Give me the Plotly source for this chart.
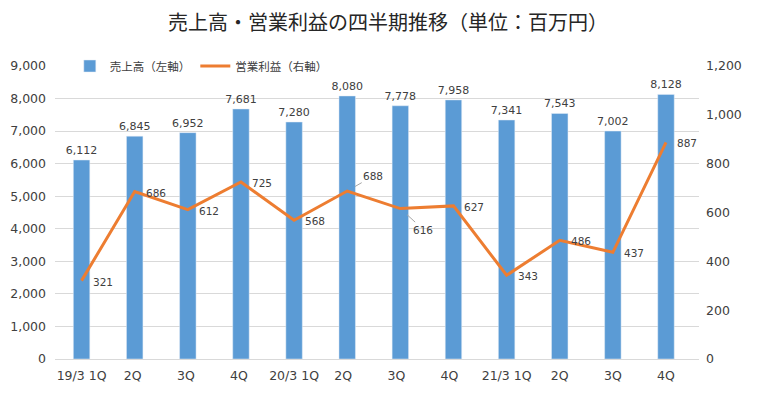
import plotly.graph_objects as go

categories = ["19/3 1Q", "2Q ", "3Q ", "4Q ", "20/3 1Q", "2Q  ", "3Q  ", "4Q  ", "21/3 1Q", "2Q", "3Q", "4Q"]
sales = [6112, 6845, 6952, 7681, 7280, 8080, 7778, 7958, 7341, 7543, 7002, 8128]
op_profit = [321, 686, 612, 725, 568, 688, 616, 627, 343, 486, 437, 887]
left_ticks = list(range(0, 9001, 1000))
right_ticks = list(range(0, 1201, 200))

FONT = "DejaVu Sans, Noto Sans CJK JP, sans-serif"
JP = "Noto Sans CJK JP, sans-serif"
TXT = "#404040"

fig = go.Figure()
fig.add_trace(go.Bar(
    x=categories, y=sales, name="売上高（左軸）",
    marker=dict(color="#5B9BD5"),
    text=[f"{v:,}" for v in sales], textposition="outside",
    constraintext="none",
    textfont=dict(size=11, color=TXT, family=FONT),
    cliponaxis=False,
))
fig.add_trace(go.Scatter(
    x=categories, y=op_profit, name="営業利益（右軸）", yaxis="y2",
    mode="lines", line=dict(color="#ED7D31", width=3),
))

# line value labels
arrow_offsets = {5: (26, -15), 6: (23, 21)}
for i, (c, v) in enumerate(zip(categories, op_profit)):
    if i in arrow_offsets:
        ax, ay = arrow_offsets[i]
        fig.add_annotation(x=c, y=v, xref="x", yref="y2", text=str(v),
                           showarrow=True, arrowhead=0, arrowwidth=1, arrowcolor="#A6A6A6",
                           ax=ax, ay=ay, standoff=9,
                           font=dict(size=10.5, color=TXT, family=FONT))
    else:
        fig.add_annotation(x=c, y=v, xref="x", yref="y2", text=str(v),
                           showarrow=False, xshift=21, yshift=-1,
                           font=dict(size=10.5, color=TXT, family=FONT))

fig.update_layout(
    width=757, height=397,
    margin=dict(l=47, r=66, t=58, b=46, autoexpand=False),
    paper_bgcolor="white", plot_bgcolor="white",
    title=dict(text="売上高・営業利益の四半期推移（単位：百万円）", x=380 / 757, xanchor="center",
               xref="container", yref="container",
               y=1 - 15 / 397, yanchor="middle",
               font=dict(size=20, color="#262626", family=JP)),
    bargap=0.69,
    showlegend=True,
    legend=dict(orientation="h", x=0.023, y=1.0, xanchor="left", yanchor="middle",
                bgcolor="rgba(255,255,255,0)",
                font=dict(size=11.5, color=TXT, family=JP),
                traceorder="normal"),
    xaxis=dict(type="category", showgrid=False, showline=True, linecolor="#D9D9D9",
               tickfont=dict(size=12.5, color=TXT, family=FONT), ticks="",
               ticklabelstandoff=5, automargin=False),
    yaxis=dict(range=[0, 9000], tickvals=left_ticks, tickformat=",", showgrid=True,
               gridcolor="#D9D9D9", zeroline=False, ticklabelstandoff=8, automargin=False,
               tickfont=dict(size=12.5, color=TXT, family=FONT)),
    yaxis2=dict(range=[0, 1200], tickvals=right_ticks, tickformat=",", overlaying="y",
                side="right", showgrid=False, zeroline=False, ticklabelstandoff=6,
                automargin=False,
                tickfont=dict(size=12.5, color=TXT, family=FONT)),
)

fig.write_html("out.html")
